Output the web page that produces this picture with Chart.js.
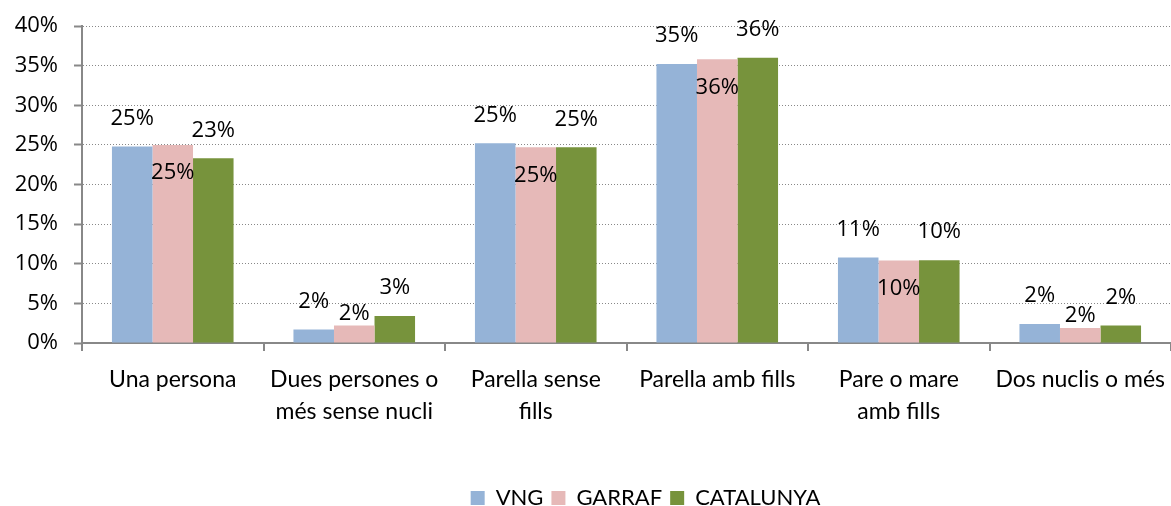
<!DOCTYPE html>
<html lang="ca">
<head>
<meta charset="UTF-8">
<title>Llars per tipus</title>
<style>
    body { margin: 0; background: #fff; }
    #wrap { width: 1171px; height: 506px; position: relative; }
</style>
</head>
<body>
<div id="wrap"><canvas id="chart"></canvas></div>

<script src="https://cdn.jsdelivr.net/npm/chart.js"></script>
<script>
const categories = [
    ['Una persona'],
    ['Dues persones o', 'més sense nucli'],
    ['Parella sense', 'fills'],
    ['Parella amb fills'],
    ['Pare o mare', 'amb fills'],
    ['Dos nuclis o més']
];
const seriesNames = ['VNG', 'GARRAF', 'CATALUNYA'];
const vng       = [24.8, 1.7, 25.2, 35.2, 10.8, 2.4];
const garraf    = [25.0, 2.2, 24.7, 35.8, 10.4, 1.9];
const catalunya = [23.3, 3.4, 24.7, 36.0, 10.45, 2.2];
const yTicks = [0, 5, 10, 15, 20, 25, 30, 35, 40];

const colors = ['#95B3D7', '#E6B9B8', '#77933C'];
const labelFont = 'Lato, "Noto Sans", sans-serif';
const numFont = '"Open Sans", "Noto Sans", sans-serif';

// value labels above the bars; GARRAF ones sit inside the bar when there is room
const valueLabels = {
    id: 'valueLabels',
    afterLayout(chart) {
        // legend sits a bit right of centre in the original
        chart.legend.left += 60;
        chart.legend.right += 60;
    },
    afterDatasetsDraw(chart) {
        const ctx = chart.ctx;
        ctx.save();
        ctx.font = '22px ' + numFont;
        ctx.fillStyle = '#000';
        ctx.textAlign = 'center';
        ctx.textBaseline = 'middle';
        chart.data.datasets.forEach((ds, i) => {
            chart.getDatasetMeta(i).data.forEach((bar, j) => {
                const h = bar.base - bar.y;
                let y = bar.y - 28;
                if (i === 1) y = h > 60 ? bar.y + 28 : bar.y - 12;
                ctx.fillText(Math.round(ds.data[j]) + '%', bar.x, y);
            });
        });
        ctx.restore();
    }
};

new Chart(document.getElementById('chart'), {
    type: 'bar',
    data: {
        labels: categories,
        datasets: [vng, garraf, catalunya].map((d, i) => ({
            label: seriesNames[i],
            data: d,
            backgroundColor: colors[i],
            borderWidth: 0,
            categoryPercentage: 0.67,
            barPercentage: 1
        }))
    },
    options: {
        responsive: true,
        maintainAspectRatio: false,
        animation: false,
        layout: { padding: { top: 26, right: 0, left: 0, bottom: -13 } },
        plugins: {
            tooltip: { enabled: false },
            legend: {
                position: 'bottom',
                labels: {
                    boxWidth: 14,
                    boxHeight: 14,
                    padding: 8,
                    color: '#000',
                    font: { family: labelFont, size: 22 }
                }
            }
        },
        scales: {
            x: {
                afterFit: s => {
                    s.height = 136;
                    s.paddingLeft = 0;
                    s.paddingRight = 0;
                },
                grid: {
                    offset: true,
                    drawOnChartArea: false,
                    drawTicks: true,
                    tickLength: 8,
                    color: '#888',
                    lineWidth: 2
                },
                border: { display: true, color: '#888', width: 2 },
                ticks: {
                    color: '#000',
                    padding: 12,
                    maxRotation: 0,
                    autoSkip: false,
                    font: { family: labelFont, size: 23, lineHeight: 1.4 }
                }
            },
            y: {
                min: 0,
                max: 40,
                afterFit: s => {
                    s.width = 82;
                    s.paddingTop = 0;
                    s.paddingBottom = 0;
                },
                afterBuildTicks: s => { s.ticks = yTicks.map(v => ({ value: v })); },
                grid: {
                    color: '#888',
                    lineWidth: 1,
                    drawTicks: true,
                    tickLength: 8,
                    tickColor: '#888',
                    tickWidth: 2
                },
                border: { display: true, color: '#888', width: 2, dash: [1, 2] },
                ticks: {
                    color: '#000',
                    padding: 16,
                    font: { family: numFont, size: 22 },
                    callback: v => v + '%'
                }
            }
        }
    },
    plugins: [valueLabels]
});
</script>
</body>
</html>
